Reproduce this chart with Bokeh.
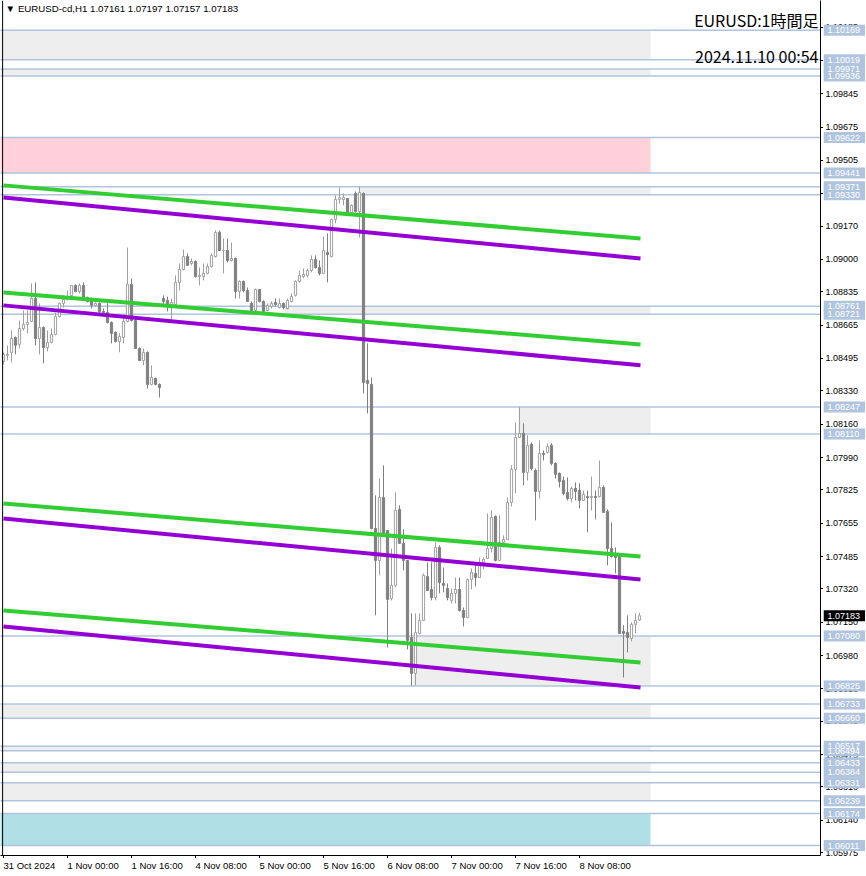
from bokeh.plotting import figure
from bokeh.models import Range1d, FixedTicker, Label, Span
from bokeh.layouts import row, column
from bokeh.core.properties import value
from bokeh.embed import file_html
from bokeh.resources import INLINE

# ---------------- data (EURUSD-cd, H1) ----------------
opens = [
    1.08480, 1.08511, 1.08526, 1.08602, 1.08567, 1.08648, 1.08669, 1.08684, 1.08801, 1.08597,
    1.08653, 1.08551, 1.08577, 1.08618, 1.08709, 1.08776, 1.08796, 1.08817, 1.08868, 1.08837,
    1.08868, 1.08806, 1.08801, 1.08766, 1.08776, 1.08735, 1.08730, 1.08679, 1.08628, 1.08582,
    1.08602, 1.08684, 1.08873, 1.08689, 1.08546, 1.08485, 1.08526, 1.08363, 1.08393, 1.08363,
    1.08801, 1.08791, 1.08766, 1.08771, 1.08883, 1.08949, 1.09015, 1.08980, 1.08990, 1.08913,
    1.08913, 1.08929, 1.08964, 1.09015, 1.09138, 1.09046, 1.09046, 1.08995, 1.09005, 1.08837,
    1.08888, 1.08842, 1.08776, 1.08740, 1.08847, 1.08786, 1.08740, 1.08760, 1.08781, 1.08755,
    1.08776, 1.08750, 1.08786, 1.08817, 1.08888, 1.08913, 1.08919, 1.08944, 1.09000, 1.08959,
    1.08929, 1.09036, 1.09015, 1.09204, 1.09306, 1.09306, 1.09311, 1.09240, 1.09337, 1.09245,
    1.09337, 1.08383, 1.08363, 1.07628, 1.07465, 1.07786, 1.07618, 1.07271, 1.07338, 1.07725,
    1.07552, 1.07465, 1.07072, 1.06889, 1.07093, 1.07159, 1.07383, 1.07317, 1.07276, 1.07531,
    1.07348, 1.07322, 1.07261, 1.07297, 1.07317, 1.07210, 1.07174, 1.07368, 1.07399, 1.07378,
    1.07455, 1.07475, 1.07526, 1.07689, 1.07465, 1.07557, 1.07572, 1.07761, 1.07929, 1.08092,
    1.08113, 1.07914, 1.08057, 1.07924, 1.07817, 1.08011, 1.08016, 1.08052, 1.07960, 1.07909,
    1.07873, 1.07812, 1.07781, 1.07832, 1.07822, 1.07771, 1.07791, 1.07786, 1.07791, 1.07791,
    1.07837, 1.07715, 1.07526, 1.07485, 1.07485, 1.07103, 1.07098, 1.07067, 1.07139, 1.07161,
]
highs = [
    1.08526, 1.08562, 1.08638, 1.08607, 1.08689, 1.08740, 1.08740, 1.08878, 1.08883, 1.08776,
    1.08658, 1.08638, 1.08648, 1.08730, 1.08781, 1.08817, 1.08842, 1.08868, 1.08873, 1.08878,
    1.08883, 1.08811, 1.08806, 1.08781, 1.08781, 1.08750, 1.08776, 1.08684, 1.08633, 1.08623,
    1.08704, 1.09061, 1.08903, 1.08699, 1.08551, 1.08546, 1.08531, 1.08460, 1.08398, 1.08368,
    1.08817, 1.08811, 1.08801, 1.08919, 1.08980, 1.09051, 1.09031, 1.09005, 1.08995, 1.08959,
    1.08980, 1.08980, 1.09031, 1.09148, 1.09148, 1.09107, 1.09107, 1.09087, 1.09010, 1.08893,
    1.08893, 1.08857, 1.08786, 1.08852, 1.08847, 1.08791, 1.08776, 1.08786, 1.08801, 1.08801,
    1.08781, 1.08801, 1.08827, 1.08893, 1.08944, 1.08954, 1.08954, 1.09021, 1.09021, 1.08995,
    1.09117, 1.09133, 1.09209, 1.09327, 1.09367, 1.09337, 1.09311, 1.09281, 1.09347, 1.09371,
    1.09342, 1.08572, 1.08398, 1.07797, 1.07883, 1.07950, 1.07618, 1.07526, 1.07812, 1.07746,
    1.07623, 1.07465, 1.07195, 1.07195, 1.07195, 1.07399, 1.07455, 1.07455, 1.07557, 1.07542,
    1.07429, 1.07348, 1.07322, 1.07378, 1.07378, 1.07225, 1.07373, 1.07424, 1.07450, 1.07480,
    1.07480, 1.07705, 1.07720, 1.07695, 1.07695, 1.07593, 1.07786, 1.07950, 1.08169, 1.08247,
    1.08164, 1.08103, 1.08067, 1.07934, 1.08077, 1.08026, 1.08062, 1.08062, 1.07965, 1.07914,
    1.07893, 1.07888, 1.07842, 1.07863, 1.07858, 1.07822, 1.07822, 1.07893, 1.07822, 1.07975,
    1.07848, 1.07725, 1.07659, 1.07531, 1.07491, 1.07134, 1.07185, 1.07149, 1.07195, 1.07197,
]
lows = [
    1.08465, 1.08485, 1.08475, 1.08516, 1.08546, 1.08638, 1.08623, 1.08684, 1.08562, 1.08516,
    1.08470, 1.08531, 1.08572, 1.08613, 1.08704, 1.08755, 1.08791, 1.08806, 1.08832, 1.08827,
    1.08801, 1.08781, 1.08750, 1.08760, 1.08725, 1.08720, 1.08674, 1.08572, 1.08577, 1.08526,
    1.08572, 1.08679, 1.08684, 1.08546, 1.08485, 1.08460, 1.08342, 1.08358, 1.08358, 1.08296,
    1.08766, 1.08735, 1.08689, 1.08766, 1.08842, 1.08944, 1.08970, 1.08970, 1.08908, 1.08868,
    1.08893, 1.08924, 1.08959, 1.09010, 1.09046, 1.08929, 1.08985, 1.08990, 1.08801, 1.08801,
    1.08832, 1.08786, 1.08740, 1.08735, 1.08781, 1.08730, 1.08735, 1.08750, 1.08760, 1.08750,
    1.08745, 1.08745, 1.08781, 1.08811, 1.08883, 1.08903, 1.08908, 1.08934, 1.08954, 1.08919,
    1.08929, 1.08883, 1.09010, 1.09184, 1.09286, 1.09276, 1.09240, 1.09235, 1.09240, 1.09112,
    1.08317, 1.08215, 1.07623, 1.07185, 1.07389, 1.07603, 1.07021, 1.07261, 1.07327, 1.07552,
    1.07414, 1.07011, 1.06825, 1.06828, 1.07088, 1.07159, 1.07312, 1.07261, 1.07261, 1.07297,
    1.07302, 1.07261, 1.07246, 1.07246, 1.07205, 1.07128, 1.07174, 1.07317, 1.07332, 1.07378,
    1.07419, 1.07475, 1.07506, 1.07460, 1.07465, 1.07531, 1.07572, 1.07740, 1.07807, 1.08092,
    1.07848, 1.07873, 1.07924, 1.07669, 1.07781, 1.07975, 1.08011, 1.07950, 1.07883, 1.07837,
    1.07797, 1.07771, 1.07761, 1.07771, 1.07730, 1.07771, 1.07608, 1.07720, 1.07674, 1.07786,
    1.07710, 1.07440, 1.07480, 1.07399, 1.07093, 1.06868, 1.06996, 1.07052, 1.07093, 1.07157,
]
closes = [
    1.08516, 1.08516, 1.08597, 1.08562, 1.08648, 1.08669, 1.08679, 1.08801, 1.08597, 1.08653,
    1.08551, 1.08577, 1.08618, 1.08709, 1.08776, 1.08796, 1.08811, 1.08868, 1.08837, 1.08868,
    1.08806, 1.08786, 1.08766, 1.08776, 1.08735, 1.08730, 1.08679, 1.08623, 1.08582, 1.08607,
    1.08684, 1.08873, 1.08689, 1.08546, 1.08485, 1.08526, 1.08363, 1.08398, 1.08363, 1.08347,
    1.08786, 1.08766, 1.08781, 1.08883, 1.08949, 1.09015, 1.08970, 1.08990, 1.08913, 1.08919,
    1.08929, 1.08964, 1.09021, 1.09138, 1.09046, 1.09046, 1.08995, 1.09005, 1.08837, 1.08888,
    1.08842, 1.08786, 1.08740, 1.08847, 1.08786, 1.08735, 1.08766, 1.08776, 1.08771, 1.08776,
    1.08755, 1.08791, 1.08811, 1.08888, 1.08919, 1.08924, 1.08944, 1.09000, 1.08959, 1.08929,
    1.09046, 1.09026, 1.09204, 1.09306, 1.09316, 1.09316, 1.09240, 1.09276, 1.09245, 1.09342,
    1.08373, 1.08368, 1.07628, 1.07465, 1.07786, 1.07603, 1.07266, 1.07338, 1.07720, 1.07552,
    1.07465, 1.07057, 1.06889, 1.07098, 1.07159, 1.07389, 1.07312, 1.07276, 1.07531, 1.07353,
    1.07338, 1.07276, 1.07297, 1.07317, 1.07210, 1.07174, 1.07368, 1.07404, 1.07378, 1.07455,
    1.07470, 1.07526, 1.07684, 1.07465, 1.07557, 1.07572, 1.07761, 1.07929, 1.08092, 1.08113,
    1.07914, 1.08052, 1.07934, 1.07817, 1.08011, 1.08006, 1.08046, 1.07960, 1.07904, 1.07868,
    1.07807, 1.07781, 1.07832, 1.07817, 1.07771, 1.07802, 1.07786, 1.07791, 1.07786, 1.07837,
    1.07710, 1.07526, 1.07485, 1.07480, 1.07093, 1.07093, 1.07072, 1.07139, 1.07159, 1.07183,
]

x_tick_bars = [0, 16, 32, 48, 64, 80, 96, 112, 128, 144]
x_tick_labels = ["31 Oct 2024", "1 Nov 00:00", "1 Nov 16:00", "4 Nov 08:00", "5 Nov 00:00",
                 "5 Nov 16:00", "6 Nov 08:00", "7 Nov 00:00", "7 Nov 16:00", "8 Nov 08:00"]
y_ticks = [1.10185, 1.10015, 1.09845, 1.09675, 1.09505, 1.09335, 1.09170, 1.09000, 1.08835,
           1.08665, 1.08495, 1.08330, 1.08160, 1.07990, 1.07825, 1.07655, 1.07485, 1.07320,
           1.07150, 1.06980, 1.06810, 1.06645, 1.06475, 1.06310, 1.06140, 1.05975]

level_lines = [1.10169, 1.10019, 1.09971, 1.09936, 1.09622, 1.09441, 1.09371, 1.09330,
               1.08761, 1.08721, 1.08247, 1.08110, 1.07080, 1.06825, 1.06733, 1.06660,
               1.06517, 1.06494, 1.06433, 1.06384, 1.06331, 1.06239, 1.06174, 1.06011]

zone_tops = [1.10169, 1.09971, 1.09622, 1.09371, 1.08761, 1.08247, 1.07080,
             1.06733, 1.06517, 1.06433, 1.06331, 1.06174]
zone_bottoms = [1.10019, 1.09936, 1.09441, 1.09330, 1.08721, 1.08110, 1.06825,
                1.06660, 1.06494, 1.06384, 1.06239, 1.06011]
zone_start_bars = [-1, -1, -1, 88.75, 70.25, 128.75, 102.5, -1, -1, -1, -1, -1]
zone_kinds = ["gray", "gray", "pink", "gray", "gray", "gray", "gray",
              "gray", "gray", "gray", "gray", "blue"]

trend_start_prices = [1.09378, 1.09316, 1.08832, 1.08766, 1.07756, 1.07679, 1.07210, 1.07128]
trend_end_prices = [1.09107, 1.09005, 1.08567, 1.08460, 1.07485, 1.07368, 1.06945, 1.06817]
trend_kinds = ["green", "purple"] * 4

title_text = "EURUSD:1時間足"
stamp_text = "2024.11.10 00:54"
symbol_text = "EURUSD-cd,H1"

# ---------------- styling ----------------
SMALL_FONT = "Liberation Sans"
ZONE_COLORS = {"gray": "#eeeeee", "pink": "#ffd1da", "blue": "#b0e0e6"}
TREND_COLORS = {"green": "#32cd32", "purple": "#9400d3"}
LEVEL_COLOR = "#b0c4de"
BULL_LINE = "#a0a0a0"
BEAR_COLOR = "#808080"

FRAME_W, FRAME_H = 820, 855
SIDE_W = 42
SIDE_EXTRA = 4
X0, X1 = -0.75, 204.25
Y0, Y1 = 1.05960, 1.10321
PX = (Y1 - Y0) / FRAME_H
ZONE_END = 161.75
TREND_X0, TREND_X1 = 0, 159.25
BORDER_X = -0.22

# ---------------- main chart ----------------
p = figure(frame_width=FRAME_W, frame_height=FRAME_H, output_backend="svg",
           toolbar_location=None, x_range=Range1d(X0, X1), y_range=Range1d(Y0, Y1),
           y_axis_location="right",
           min_border_left=0, min_border_right=0, min_border_top=0, min_border_bottom=0)
p.outline_line_color = None
p.background_fill_color = "white"
p.border_fill_color = "white"
p.xgrid.visible = False
p.ygrid.visible = False

for top, bot, start, kind in zip(zone_tops, zone_bottoms, zone_start_bars, zone_kinds):
    p.quad(left=start, right=ZONE_END, top=top, bottom=bot,
           fill_color=ZONE_COLORS[kind], line_color=None)

for lv in level_lines:
    p.segment(x0=X0 - 1, y0=lv, x1=X1 + 1, y1=lv, line_color=LEVEL_COLOR, line_width=1.5)

idx = list(range(len(closes)))
up = [i for i in idx if closes[i] >= opens[i]]
dn = [i for i in idx if closes[i] < opens[i]]

p.segment(x0=up, x1=up, y0=[highs[i] for i in up], y1=[lows[i] for i in up],
          line_color=BULL_LINE, line_width=1)
p.segment(x0=dn, x1=dn, y0=[highs[i] for i in dn], y1=[lows[i] for i in dn],
          line_color=BEAR_COLOR, line_width=1)
p.vbar(x=up, width=0.55, top=[closes[i] for i in up], bottom=[opens[i] for i in up],
       fill_color="white", line_color=BULL_LINE, line_width=1)
p.vbar(x=dn, width=0.55, top=[opens[i] for i in dn], bottom=[closes[i] for i in dn],
       fill_color=BEAR_COLOR, line_color=BEAR_COLOR, line_width=1)

for y0, y1, kind in zip(trend_start_prices, trend_end_prices, trend_kinds):
    p.segment(x0=TREND_X0, y0=y0, x1=TREND_X1, y1=y1,
              line_color=TREND_COLORS[kind], line_width=4)

p.add_layout(Span(location=BORDER_X, dimension="height", line_color="black", line_width=1))

# library axes: axis lines and tick marks (their labels are drawn in the side panels)
for ax, ticks in ((p.xaxis[0], x_tick_bars), (p.yaxis[0], y_ticks)):
    ax.ticker = FixedTicker(ticks=ticks)
    ax.major_label_text_font_size = "1px"
    ax.major_label_text_color = None
    ax.major_label_standoff = 0
    ax.major_tick_in = 0
    ax.major_tick_out = 3
    ax.minor_tick_line_color = None
    ax.axis_line_color = "black"
    ax.major_tick_line_color = "black"

header = f"\u25bc {symbol_text}  {opens[-1]:.5f} {highs[-1]:.5f} {lows[-1]:.5f} {closes[-1]:.5f}"
p.add_layout(Label(x=BORDER_X, y=Y1, x_offset=3, y_offset=-2, text=header, text_align="left",
                   text_baseline="top", text_font=SMALL_FONT, text_font_size="9.7px",
                   text_color="black"))
p.add_layout(Label(x=X1, y=Y1, x_offset=-2, y_offset=-19, text=title_text, text_align="right",
                   text_baseline="middle", text_font="Noto Sans CJK JP", text_font_size="16px",
                   text_color="black"))
p.add_layout(Label(x=X1, y=Y1, x_offset=-2, y_offset=-55, text=stamp_text, text_align="right",
                   text_baseline="middle", text_font="Noto Sans CJK JP", text_font_size="16px",
                   text_color="black"))

# ---------------- price scale panel (shares the price scale) ----------------
side = figure(frame_width=SIDE_W, frame_height=FRAME_H + SIDE_EXTRA, output_backend="svg",
              toolbar_location=None, x_range=Range1d(0, SIDE_W),
              y_range=Range1d(Y0 - SIDE_EXTRA * PX, Y1),
              min_border_left=0, min_border_right=0, min_border_top=0, min_border_bottom=0)
side.axis.visible = False
side.grid.visible = False
side.outline_line_color = None

side.text(x=2, y=y_ticks, text=[f"{t:.5f}" for t in y_ticks], text_align="left",
          text_baseline="middle", text_font=value(SMALL_FONT), text_font_size="9px",
          text_color="black")
side.rect(x=SIDE_W / 2, y=level_lines, width=SIDE_W, height=11, height_units="screen",
          fill_color=LEVEL_COLOR, line_color=None)
side.text(x=4, y=level_lines, text=[f"{lv:.5f}" for lv in level_lines], text_align="left",
          text_baseline="middle", text_font=value(SMALL_FONT), text_font_size="9px",
          text_color="white")
side.rect(x=SIDE_W / 2, y=closes[-1], width=SIDE_W, height=11, height_units="screen",
          fill_color="black", line_color=None)
side.text(x=4, y=closes[-1], text=[f"{closes[-1]:.5f}"], text_align="left",
          text_baseline="middle", text_font=value(SMALL_FONT), text_font_size="9px",
          text_color="white")

# ---------------- time scale panel (shares the bar scale) ----------------
bottom = figure(frame_width=FRAME_W, frame_height=13, output_backend="svg",
                toolbar_location=None, x_range=p.x_range, y_range=Range1d(0, 1),
                min_border_left=0, min_border_right=0, min_border_top=0, min_border_bottom=0)
bottom.axis.visible = False
bottom.grid.visible = False
bottom.outline_line_color = None
bottom.text(x=x_tick_bars, y=1, text=x_tick_labels, text_align="left", text_baseline="top",
            text_font=value(SMALL_FONT), text_font_size="9.5px", text_color="black")

layout = column(row(p, side, spacing=0), bottom, spacing=0)

open("out.html", "w").write(file_html(layout, INLINE))
